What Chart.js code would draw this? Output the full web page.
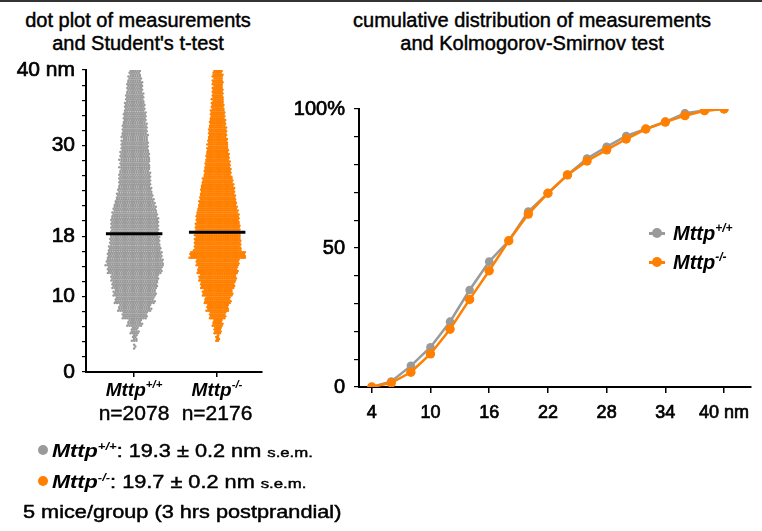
<!DOCTYPE html>
<html>
<head>
<meta charset="utf-8">
<script src="https://cdn.jsdelivr.net/npm/chart.js@4.4.1/dist/chart.umd.min.js"></script>
<style>
body { margin: 0; background: #fff; font-family: "Liberation Sans", Arial, sans-serif; color: #000; }
#page { position: relative; width: 762px; height: 531px; overflow: hidden; }
.abs { position: absolute; white-space: nowrap; -webkit-text-stroke: 0.45px #000; }
.title { font-size: 20px; line-height: 23px; text-align: center; }
.gene { font-style: italic; font-weight: bold; -webkit-text-stroke: 0; }
.wide { font-size: 17.5px; line-height: 20px; transform: scaleX(1.24); transform-origin: 0 0; }
.sem { font-size: 13.5px; }
sup { font-size: 0.6em; line-height: 0; vertical-align: 0.7em; }
.dot { position: absolute; width: 10px; height: 10px; border-radius: 50%; }
.mk { position: absolute; width: 16px; height: 10px; }
.mk i { position: absolute; left: 0; top: 4px; width: 16px; height: 2.5px; }
.mk b { position: absolute; left: 3px; top: 0; width: 10px; height: 10px; border-radius: 50%; }
</style>
</head>
<body>
<div id="page">
  <div class="abs" style="left:0;top:0;width:762px;height:2px;background:#333"></div>

  <div class="abs title" style="left:0;top:9px;width:276px">dot plot of measurements<br>and Student's t-test</div>
  <div class="abs title" style="left:330px;top:9px;width:404px">cumulative distribution of measurements<br>and Kolmogorov-Smirnov test</div>

  <div class="abs" style="left:0;top:0;width:270px;height:400px"><canvas id="dotChart" width="270" height="400"></canvas></div>
  <div class="abs" style="left:270px;top:0;width:492px;height:430px"><canvas id="cdfChart" width="492" height="430"></canvas></div>

  <div id="catLabels"></div>

  <div class="dot" style="left:38px;top:445px;background:#9a9a9a"></div>
  <div class="abs wide" style="left:52px;top:441px"><span class="gene">Mttp<sup>+/+</sup></span>: 19.3 ± 0.2 nm <span class="sem">s.e.m.</span></div>
  <div class="dot" style="left:38px;top:476px;background:#ff8000"></div>
  <div class="abs wide" style="left:52px;top:472px"><span class="gene">Mttp<sup>-/-</sup></span>: 19.7 ± 0.2 nm <span class="sem">s.e.m.</span></div>
  <div class="abs wide" style="left:23px;top:502px">5 mice/group (3 hrs postprandial)</div>

  <div class="mk" style="left:649px;top:228px"><i style="background:#9a9a9a"></i><b style="background:#9a9a9a"></b></div>
  <div class="abs gene" style="left:673px;top:222px;font-size:20px;line-height:22px">Mttp<sup>+/+</sup></div>
  <div class="mk" style="left:649px;top:257px"><i style="background:#ff8000"></i><b style="background:#ff8000"></b></div>
  <div class="abs gene" style="left:673px;top:251px;font-size:20px;line-height:22px">Mttp<sup>-/-</sup></div>
</div>

<script>
// dot plot: number of particles per 1 nm size bin (bin start, nm)
var sizeBins = [3, 4, 5, 6, 7, 8, 9, 10, 11, 12, 13, 14, 15, 16, 17, 18, 19, 20, 21,
                22, 23, 24, 25, 26, 27, 28, 29, 30, 31, 32, 33, 34, 35, 36, 37, 38, 39];
var wtCounts = [3, 9, 14, 26, 44, 58, 70, 75, 80, 84, 96, 101, 96, 91, 88, 84, 84, 82, 77,
                70, 63, 58, 56, 54, 53, 53, 49, 47, 46, 44, 40, 38, 35, 32, 28, 26, 21];
var koCounts = [0, 7, 16, 22, 36, 49, 58, 67, 76, 83, 90, 96, 125, 105, 103, 101, 99, 96, 90,
                83, 78, 74, 67, 60, 56, 52, 47, 45, 40, 38, 34, 31, 27, 25, 23, 23, 22];
var groupLabels = ['+/+', '-/-'];
var groupN = [2078, 2176];
var centerLines = [18.3, 18.5];
var dotTicks = [0, 10, 18, 30, 40];

// cumulative distribution (%)
var cdfSizes = [4, 6, 8, 10, 12, 14, 16, 18, 20, 22, 24, 26, 28, 30, 32, 34, 36, 38, 40];
var cdfWT = [0, 2, 7.6, 14.3, 23.5, 34.9, 45.1, 52.6, 63.1, 69.7, 76.3, 82.2, 86.4, 90.3, 92.8, 95.4, 98.5, 99.5, 100];
var cdfKO = [0, 1.5, 5.3, 11.9, 20.8, 31.5, 41.8, 52.6, 62.2, 69.7, 76.3, 81.3, 85.3, 89.2, 92.8, 95.3, 97.6, 99.4, 100];
var cdfTicks = [4, 10, 16, 22, 28, 34, 40];

var grey = '#9a9a9a';
var orange = '#ff8000';
var font = '"Liberation Sans", Arial, sans-serif';

// lay the counted dots out side by side, 4 sub-rows per bin
function swarm(counts, center, step) {
    var pts = [];
    var rows = 4;
    for (var b = 0; b < sizeBins.length; b++) {
        var c = counts[b];
        for (var r = 0; r < rows; r++) {
            var n = Math.floor(c / rows) + (r < c % rows ? 1 : 0);
            var y = sizeBins[b] + (r + 0.5) / rows;
            var shift = (r % 2) * step / 2;
            for (var j = 0; j < n; j++) {
                pts.push({ x: center + (j - (n - 1) / 2) * step + shift, y: y });
            }
        }
    }
    return pts;
}

function meanLine(center, value) {
    return [{ x: center - 0.34, y: value }, { x: center + 0.34, y: value }];
}

var axisBorder = { display: true, color: '#000', width: 2 };

new Chart(document.getElementById('dotChart'), {
    type: 'scatter',
    data: {
        datasets: [
            { data: meanLine(1, centerLines[0]), showLine: true, borderColor: '#000', borderWidth: 3, pointRadius: 0, order: 0 },
            { data: meanLine(2, centerLines[1]), showLine: true, borderColor: '#000', borderWidth: 3, pointRadius: 0, order: 0 },
            { data: swarm(wtCounts, 1, 0.0275), backgroundColor: grey, borderWidth: 0, pointRadius: 1.25, order: 1 },
            { data: swarm(koCounts, 2, 0.0215), backgroundColor: orange, borderWidth: 0, pointRadius: 1.25, order: 1 }
        ]
    },
    options: {
        responsive: false,
        animation: false,
        layout: { padding: { top: 70, right: 8, left: 0, bottom: 0 } },
        plugins: { legend: { display: false }, tooltip: { enabled: false } },
        scales: {
            x: {
                type: 'linear', min: 0.42, max: 2.54,
                afterBuildTicks: function (axis) { axis.ticks = [{ value: 1 }, { value: 2 }]; },
                afterFit: function (axis) { axis.height = 28; },
                ticks: { display: false },
                grid: { drawOnChartArea: false, drawTicks: true, tickLength: 5, color: '#000', lineWidth: 1.5 },
                border: axisBorder
            },
            y: {
                min: 0, max: 40,
                afterFit: function (axis) { axis.width = 86; },
                ticks: {
                    stepSize: 2, autoSkip: false, padding: 7, color: '#000',
                    textStrokeColor: '#000', textStrokeWidth: 0.7,
                    font: { family: font, size: 21 },
                    callback: function (v) {
                        if (dotTicks.indexOf(v) < 0) return '';
                        return v === 40 ? '40 nm' : String(v);
                    }
                },
                grid: { drawOnChartArea: false, drawTicks: true, tickLength: 4, color: '#000', lineWidth: 1.2 },
                border: axisBorder
            }
        }
    }
});

new Chart(document.getElementById('cdfChart'), {
    type: 'scatter',
    data: {
        datasets: [
            {
                data: cdfSizes.map(function (s, i) { return { x: s, y: cdfWT[i] }; }),
                showLine: true, borderColor: grey, backgroundColor: grey, borderWidth: 2.5,
                pointRadius: 4.3, pointBorderWidth: 0, order: 2
            },
            {
                data: cdfSizes.map(function (s, i) { return { x: s, y: cdfKO[i] }; }),
                showLine: true, borderColor: orange, backgroundColor: orange, borderWidth: 2.5,
                pointRadius: 4.7, pointBorderWidth: 0, order: 1
            }
        ]
    },
    options: {
        responsive: false,
        animation: false,
        layout: { padding: { top: 109, right: 11, left: 0, bottom: 0 } },
        plugins: { legend: { display: false }, tooltip: { enabled: false } },
        scales: {
            x: {
                type: 'linear', min: 2.7, max: 42.75,
                afterBuildTicks: function (axis) { axis.ticks = cdfTicks.map(function (v) { return { value: v }; }); },
                afterFit: function (axis) { axis.height = 43; },
                ticks: {
                    autoSkip: false, maxRotation: 0, padding: 9, color: '#000',
                    textStrokeColor: '#000', textStrokeWidth: 0.7,
                    font: { family: font, size: 18 },
                    callback: function (v) { return v === 40 ? '40 nm' : String(v); }
                },
                grid: { drawOnChartArea: false, drawTicks: true, tickLength: 6, color: '#000', lineWidth: 1.5 },
                border: axisBorder
            },
            y: {
                min: 0, max: 100,
                afterFit: function (axis) { axis.width = 89; },
                ticks: {
                    stepSize: 10, autoSkip: false, padding: 9, color: '#000',
                    textStrokeColor: '#000', textStrokeWidth: 0.7,
                    font: { family: font, size: 20 },
                    callback: function (v) {
                        if (v === 100) return '100%';
                        if (v === 50 || v === 0) return String(v);
                        return '';
                    }
                },
                grid: { drawOnChartArea: false, drawTicks: true, tickLength: 5, color: '#000', lineWidth: 1.2 },
                border: axisBorder
            }
        }
    }
});

// category labels under the dot plot
var centers = [134, 217];
var html = '';
for (var i = 0; i < groupLabels.length; i++) {
    html += '<div class="abs gene" style="left:' + (centers[i] - 50) + 'px;top:379px;width:100px;text-align:center;font-size:19px;line-height:22px">Mttp<sup>' + groupLabels[i] + '</sup></div>';
    html += '<div class="abs" style="left:' + (centers[i] - 50) + 'px;top:401px;width:100px;text-align:center;font-size:21px;line-height:24px">n=' + groupN[i] + '</div>';
}
document.getElementById('catLabels').innerHTML = html;
</script>
</body>
</html>
